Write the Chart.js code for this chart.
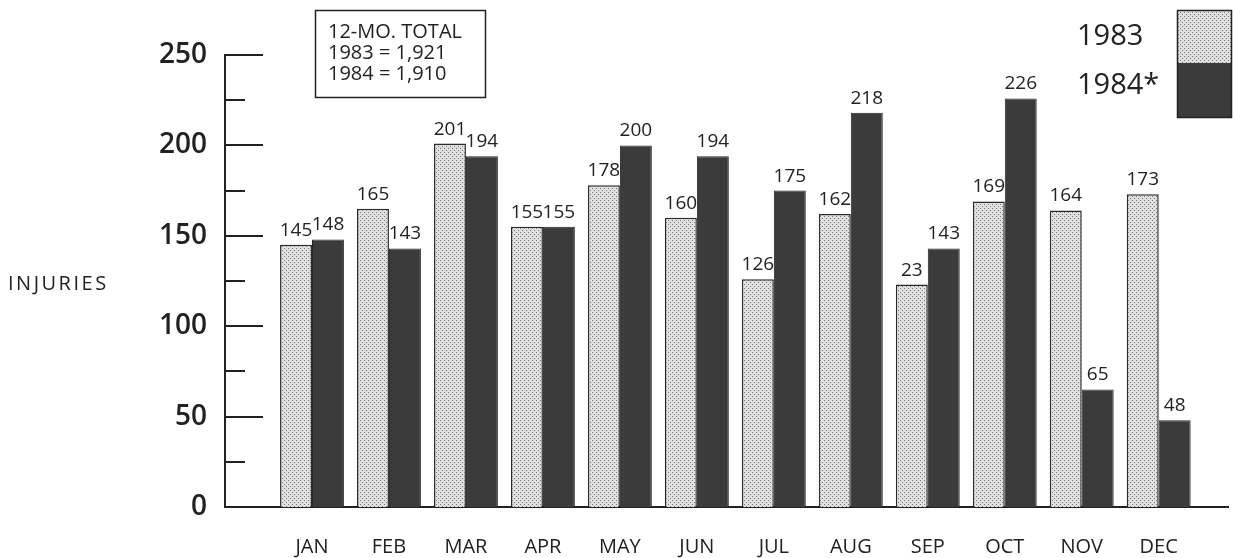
<!DOCTYPE html>
<html lang="en">
<head>
  <meta charset="UTF-8">
  <title>Injuries by month, 1983 vs 1984</title>
  <style>
    html, body { margin: 0; padding: 0; background: #fff; }
    #wrap { width: 1233px; height: 558px; }
  </style>
</head>
<body>
  <div id="wrap"><canvas id="chart-canvas"></canvas></div>

  <script src="https://cdn.jsdelivr.net/npm/chart.js@4.4.8/dist/chart.umd.min.js"></script>
  <script>
    // data
    const months = ['JAN', 'FEB', 'MAR', 'APR', 'MAY', 'JUN', 'JUL', 'AUG', 'SEP', 'OCT', 'NOV', 'DEC'];
    const injuries1983 = [145, 165, 201, 155, 178, 160, 126, 162, 123, 169, 164, 173];
    const injuries1984 = [148, 143, 194, 155, 200, 194, 175, 218, 143, 226, 65, 48];
    // printed labels (the SEP 1983 label reads "23" in the original)
    const labels1983 = ['145', '165', '201', '155', '178', '160', '126', '162', '23', '169', '164', '173'];
    const labels1984 = ['148', '143', '194', '155', '200', '194', '175', '218', '143', '226', '65', '48'];
    const yTicks = [0, 50, 100, 150, 200, 250];
    const seriesNames = ['1983', '1984*'];
    const totalsBox = ['12-MO. TOTAL', '1983 = 1,921', '1984 = 1,910'];

    const FONT = "'Open Sans', 'DejaVu Sans', sans-serif";
    const INK = '#222';

    // stippled fill for the 1983 bars
    function makeDots() {
      const c = document.createElement('canvas');
      c.width = 4; c.height = 4;
      const g = c.getContext('2d');
      g.fillStyle = '#e0e0e0';
      g.fillRect(0, 0, 4, 4);
      g.fillStyle = '#767676';
      g.fillRect(0, 0, 1, 1);
      g.fillRect(2, 2, 1, 1);
      return g.createPattern(c, 'repeat');
    }
    const dots = makeDots();
    const dark = '#3b3b3b';

    // labels, tick marks, totals box and legend
    const decor = {
      id: 'decor',
      afterDraw(chart) {
        const ctx = chart.ctx;
        const area = chart.chartArea;
        const y = chart.scales.y;
        ctx.save();

        // inner tick marks on the y axis
        ctx.strokeStyle = INK;
        ctx.lineWidth = 2;
        y.ticks.forEach(t => {
          if (t.value === 0) return;
          const py = Math.round(y.getPixelForValue(t.value));
          const len = yTicks.includes(t.value) ? 38 : 20;
          ctx.beginPath();
          ctx.moveTo(area.left, py);
          ctx.lineTo(area.left + len, py);
          ctx.stroke();
        });

        // value labels above bars
        ctx.fillStyle = INK;
        ctx.font = '19px ' + FONT;
        ctx.textAlign = 'center';
        ctx.textBaseline = 'alphabetic';
        [labels1983, labels1984].forEach((labs, d) => {
          chart.getDatasetMeta(d).data.forEach((bar, i) => {
            ctx.fillText(labs[i], bar.x, bar.y - 9);
          });
        });

        // horizontal axis title
        ctx.textAlign = 'left';
        ctx.textBaseline = 'middle';
        ctx.font = '20px ' + FONT;
        ctx.letterSpacing = '2.5px';
        ctx.fillText('INJURIES', 8, 284);
        ctx.letterSpacing = '0px';

        // totals box
        ctx.lineWidth = 1.5;
        ctx.strokeRect(315.5, 10.5, 170, 87);
        ctx.font = '20px ' + FONT;
        totalsBox.forEach((line, i) => ctx.fillText(line, 328, 32 + i * 21));

        // legend
        ctx.font = '29px ' + FONT;
        ctx.fillText(seriesNames[0], 1077, 37);
        ctx.fillText(seriesNames[1], 1077, 86);
        ctx.fillStyle = chart.data.datasets[0].backgroundColor;
        ctx.fillRect(1177, 10, 55, 53);
        ctx.fillStyle = chart.data.datasets[1].backgroundColor;
        ctx.fillRect(1177, 63, 55, 55);
        ctx.strokeRect(1177.5, 10.5, 54, 107);

        ctx.restore();
      }
    };

    const context = document.getElementById('chart-canvas').getContext('2d');
    const chart = new Chart(context, {
      type: 'bar',
      data: {
        datasets: [
          {
            label: seriesNames[0],
            data: injuries1983.map((v, i) => ({ x: i, y: v })),
            backgroundColor: dots,
            borderColor: '#2a2a2a',
            borderWidth: 1.5
          },
          {
            label: seriesNames[1],
            data: injuries1984.map((v, i) => ({ x: i, y: v })),
            backgroundColor: dark,
            borderColor: '#262626',
            borderWidth: 1
          }
        ]
      },
      options: {
        responsive: true,
        maintainAspectRatio: false,
        animation: false,
        categoryPercentage: 0.83,
        barPercentage: 1,
        layout: { padding: { top: 55, right: 5, left: 0, bottom: 0 } },
        plugins: {
          legend: { display: false },
          tooltip: { enabled: false }
        },
        scales: {
          x: {
            type: 'linear',
            offset: false,
            min: -1.13,
            max: 11.9,
            afterBuildTicks: s => { s.ticks = months.map((m, i) => ({ value: i })); },
            afterFit: s => { s.height = 51; },
            grid: { display: false },
            border: { display: true, color: INK, width: 2 },
            ticks: {
              autoSkip: false,
              maxRotation: 0,
              padding: 20,
              color: INK,
              font: { family: FONT, size: 20 },
              callback: v => months[v] ?? ''
            }
          },
          y: {
            min: 0,
            max: 250,
            afterFit: s => { s.width = 225; },
            grid: { display: false, drawTicks: false },
            border: { display: true, color: INK, width: 2 },
            ticks: {
              stepSize: 25,
              padding: 18,
              color: INK,
              font: { family: FONT, size: 28, weight: '600' },
              callback: v => yTicks.includes(v) ? v : ''
            }
          }
        }
      },
      plugins: [decor]
    });
  </script>
</body>
</html>
